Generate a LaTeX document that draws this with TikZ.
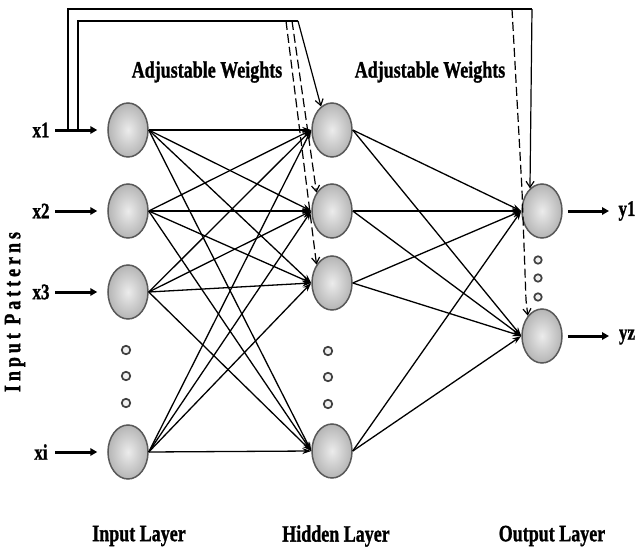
\documentclass[tikz,border=0pt]{standalone}
\usepackage{fontspec}
\setmainfont{Liberation Serif}
\newfontfamily\heavyserif{Liberation Serif}[BoldFeatures={FakeBold=1.3}]
\usetikzlibrary{arrows.meta,shapes.geometric}
\newcommand{\tallbf}[1]{\scalebox{1}[1.3]{#1}}
\begin{document}
\begin{tikzpicture}[x=1pt,y=-1pt,
  neuron/.style={ellipse, minimum width=40pt, minimum height=54pt, inner sep=0pt,
    draw=black!65, line width=1.5pt, shading=radial, inner color=gray!15, outer color=gray!58},
  dotc/.style={circle, minimum size=8.5pt, inner sep=0pt, draw=gray!50!black,
    line width=1.7pt, fill=gray!12},
  wire/.style={line width=1.3pt, -{Stealth[length=9pt,width=6pt]}},
  io/.style={line width=3pt, -{Triangle[length=7pt,width=7.5pt]}},
  fb/.style={line width=1.3pt},
  fbarrow/.style={line width=1.2pt, -{Straight Barb[length=6pt,width=8pt]}},
  fbdash/.style={fbarrow, dash pattern=on 9pt off 4pt},
  lbl/.style={font=\heavyserif\bfseries\fontsize{18}{20}\selectfont, inner sep=0pt},
  sym/.style={font=\heavyserif\bfseries\fontsize{17}{20}\selectfont, inner sep=0pt},
]
\useasboundingbox (0,0) rectangle (638,549);

% neurons
\node[neuron] (i1) at (128,130) {};
\node[neuron] (i2) at (128,211) {};
\node[neuron] (i3) at (128,292) {};
\node[neuron] (i4) at (128,452) {};
\node[neuron] (h1) at (332,130) {};
\node[neuron] (h2) at (332,211) {};
\node[neuron] (h3) at (332,283) {};
\node[neuron] (h4) at (332,451) {};
\node[neuron] (o1) at (542,211) {};
\node[neuron] (o2) at (542,336) {};

% ellipsis dots
\foreach \y [count=\k] in {350,376,403} {
  \node[dotc] (di\k) at (126,\y) {};
  \node[dotc] (dh\k) at (328,\y+1) {};
}
\foreach \y [count=\k] in {260,278,297}
  \node[dotc, minimum size=7.5pt] (do\k) at (538,\y) {};

% fully connected weights
\foreach \a in {i1,i2,i3,i4}
  \foreach \b in {h1,h2,h3,h4}
    \draw[wire] (\a.east) -- (\b.west);
\foreach \a in {h1,h2,h3,h4}
  \foreach \b in {o1,o2}
    \draw[wire] (\a.east) -- (\b.west);

% input pattern arrows
\foreach \k/\y/\t in {1/130/x1,2/211/x2,3/292/x3,4/452/xi} {
  \coordinate (s\k) at (55,\y);
  \node[sym] (x\k) at (41,\y) {\tallbf{\t}};
  \draw[io, shorten >=10pt] (s\k) -- (i\k.west);
}

% output arrows
\coordinate (e1) at (609,211);
\coordinate (e2) at (609,336);
\draw[io, shorten <=5pt] (o1.east) -- (e1);
\draw[io, shorten <=5pt] (o2.east) -- (e2);
\node[sym] (y1) at (627,211) {\tallbf{y1}};
\node[sym] (y2) at (627,337) {\tallbf{yz}};

% feedback loops for weight adjustment
\coordinate (fo1) at (68,130);
\coordinate (fo2) at (68,9);
\coordinate (fo3) at (532,9);
\coordinate (fd1) at (512,9);
\coordinate (fd2) at (522,190);
\coordinate (fd3) at (526,300);
\draw[fb] (fo1) -- (fo2) -- (fo3);
\draw[fbarrow] (fo3) -- (o1.118);
\draw[fbdash] (fd1) -- (fd2) -- (fd3) -- (o2.125);

\coordinate (fi1) at (78,130);
\coordinate (fi2) at (78,21);
\coordinate (fi3) at (298,21);
\coordinate (fj1) at (286,21);
\coordinate (fj2) at (292,21);
\draw[fb] (fi1) -- (fi2) -- (fi3);
\draw[fbarrow] (fi3) -- (h1.115);
\draw[fbdash] (fj1) -- (h3.130);
\draw[fbdash] (fj2) -- (h2.130);

% labels
\node[lbl] (w1) at (207,72) {\tallbf{Adjustable Weights}};
\node[lbl] (w2) at (430,72) {\tallbf{Adjustable Weights}};
\node[lbl] (l1) at (139,536) {\tallbf{Input Layer}};
\node[lbl] (l2) at (336,536) {\tallbf{Hidden Layer}};
\node[lbl] (l3) at (552,536) {\tallbf{Output Layer}};
\node[lbl, rotate=90] (ip) at (15,312)
  {\tallbf{\addfontfeature{LetterSpace=22}Input Patterns}};
\end{tikzpicture}
\end{document}
